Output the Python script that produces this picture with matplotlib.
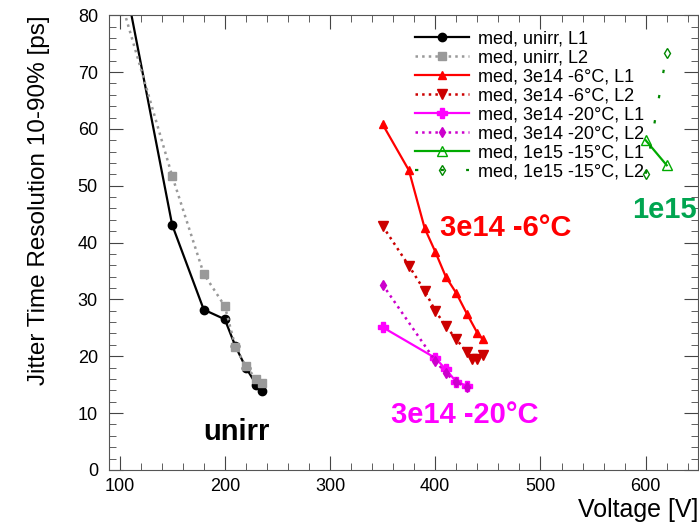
import matplotlib
matplotlib.use('Agg')
import matplotlib.pyplot as plt
from matplotlib.ticker import MultipleLocator

plt.rcParams['font.family'] = ['Liberation Sans', 'DejaVu Sans']

# unirr
v_unirr_l1 = [100, 150, 180, 200, 210, 220, 230, 235]
t_unirr_l1 = [90.8, 43.1, 28.2, 26.5, 21.8, 18.0, 15.0, 13.8]
v_unirr_l2 = [100, 150, 180, 200, 210, 220, 230, 235]
t_unirr_l2 = [83.4, 51.7, 34.5, 28.8, 21.7, 18.2, 16.0, 15.2]

# 3e14 -6C
v_6c_l1 = [350, 375, 390, 400, 410, 420, 430, 440, 445]
t_6c_l1 = [60.8, 52.7, 42.5, 38.4, 34.0, 31.1, 27.5, 24.1, 23.0]
v_6c_l2 = [350, 375, 390, 400, 410, 420, 430, 435, 440, 445]
t_6c_l2 = [42.9, 35.9, 31.5, 28.0, 25.3, 23.0, 20.7, 19.5, 19.5, 20.3]

# 3e14 -20C
v_20c_l1 = [350, 400, 410, 420, 430]
t_20c_l1 = [25.1, 19.7, 17.7, 15.5, 14.8]
v_20c_l2 = [350, 400, 410, 420, 430]
t_20c_l2 = [32.6, 19.2, 17.0, 15.4, 14.6]

# 1e15 -15C
v_15c_l1 = [600, 620]
t_15c_l1 = [58.0, 53.6]
v_15c_l2 = [600, 620]
t_15c_l2 = [52.1, 73.4]

fig = plt.figure(figsize=(6.99, 5.25), dpi=100)
ax = fig.add_axes([0.156, 0.105, 0.843, 0.866])

ax.plot(v_unirr_l1, t_unirr_l1, '-', color='black', lw=1.6, marker='o', ms=6,
        label='med, unirr, L1')
ax.plot(v_unirr_l2, t_unirr_l2, ':', color='#999999', lw=1.8, marker='s', ms=6,
        label='med, unirr, L2')
ax.plot(v_6c_l1, t_6c_l1, '-', color='#ff0000', lw=1.6, marker='^', ms=6,
        label='med, 3e14 -6°C, L1')
ax.plot(v_6c_l2, t_6c_l2, ':', color='#cc0000', lw=1.8, marker='v', ms=7,
        label='med, 3e14 -6°C, L2')
ax.plot(v_20c_l1, t_20c_l1, '-', color='#ff00ff', lw=1.6, marker='P', ms=7,
        label='med, 3e14 -20°C, L1')
ax.plot(v_20c_l2, t_20c_l2, ':', color='#cc00cc', lw=1.8, marker='d', ms=5,
        label='med, 3e14 -20°C, L2')
ax.plot(v_15c_l1, t_15c_l1, '-', color='#00aa00', lw=1.6, marker='^', ms=7,
        mfc='none', label='med, 1e15 -15°C, L1')
ax.plot(v_15c_l2, t_15c_l2, linestyle=(0, (1.5, 10)), color='#008800', lw=1.6,
        marker='d', ms=5, mfc='none', label='med, 1e15 -15°C, L2')

ax.set_xlim(90, 650)
ax.set_ylim(0, 80)
ax.xaxis.set_major_locator(MultipleLocator(100))
ax.xaxis.set_minor_locator(MultipleLocator(20))
ax.yaxis.set_major_locator(MultipleLocator(10))
ax.yaxis.set_minor_locator(MultipleLocator(2))
ax.tick_params(which='both', direction='in', top=True, right=True,
               labelsize=13, color='#444444')
ax.tick_params(which='major', length=10)
ax.tick_params(which='minor', length=5)
ax.tick_params(axis='y', pad=8)
ax.tick_params(axis='x', pad=6)
for s in ax.spines.values():
    s.set_color('#555555')

ax.set_xlabel('Voltage [V]', fontsize=18, loc='right', labelpad=2)
ax.set_ylabel('Jitter Time Resolution 10-90% [ps]', fontsize=17.5, loc='top',
              labelpad=20)

ax.text(211, 6.7, 'unirr', color='black', fontsize=21, fontweight='bold',
        ha='center', va='center')
ax.text(428, 9.7, '3e14 -20°C', color='#ff00ff', fontsize=21, fontweight='bold',
        ha='center', va='center')
ax.text(467, 42.5, '3e14 -6°C', color='#ff0000', fontsize=21, fontweight='bold',
        ha='center', va='center')
ax.text(587, 45.7, '1e15', color='#00a550', fontsize=21, fontweight='bold',
        ha='left', va='center', clip_on=False)

ax.legend(loc='upper left', bbox_to_anchor=(0.5, 0.99), frameon=False,
          fontsize=13, handlelength=3.0, handletextpad=0.5,
          labelspacing=0.11, borderpad=0.1)

fig.savefig('out.png', dpi=100)
